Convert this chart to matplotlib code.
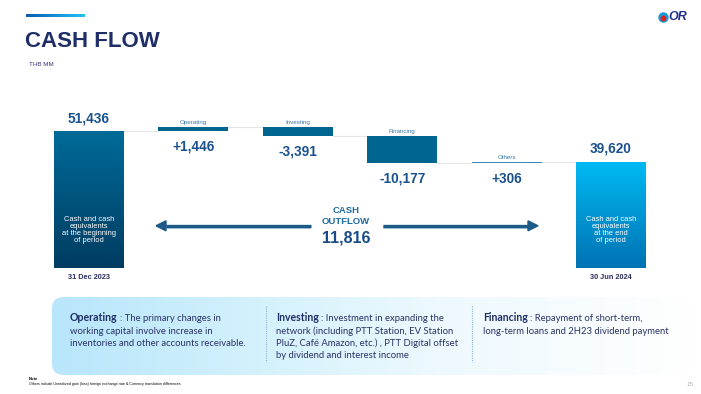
import numpy as np
import matplotlib
matplotlib.use("Agg")
import matplotlib.pyplot as plt
from matplotlib.colors import LinearSegmentedColormap
from matplotlib.patches import FancyBboxPatch, Polygon

plt.rcParams['font.family'] = ['Liberation Sans', 'DejaVu Sans']

# data (THB MM)
opening = 51436
closing = 39620
categories = ["Operating", "Investing", "Financing", "Others"]
changes = [1446, -3391, -10177, 306]
cash_outflow = 11816
period_labels = ["31 Dec 2023", "30 Jun 2024"]
total_notes = ["Cash and cash\nequivalents\nat the beginning\nof period",
               "Cash and cash\nequivalents\nat the end\nof period"]

notes_head = ["Operating", "Investing", "Financing"]
notes_lines = [
    [": The primary changes in",
     "working capital involve increase in",
     "inventories and other accounts receivable."],
    [": Investment in expanding the",
     "network (including PTT Station, EV Station",
     "PluZ, Café Amazon, etc.) , PTT Digital offset",
     "by dividend and interest income"],
    [": Repayment of short-term,",
     "long-term loans and 2H23 dividend payment"],
]

navy = "#1f2f66"
val_col = "#19528f"
bar_col = "#006690"

fig = plt.figure(figsize=(7.01, 3.94), dpi=100)
fig.patch.set_facecolor("white")

# overlay in pixel coordinates for the slide decoration
ov = fig.add_axes([0, 0, 1, 1])
ov.set_xlim(0, 701)
ov.set_ylim(394, 0)
ov.axis("off")

# waterfall axes
ax = fig.add_axes([36.8 / 701, 126 / 394, 626.4 / 701, 159.8 / 394])
ax.patch.set_alpha(0)
ax.axis("off")

w = 0.67
x_open, x_close = 0, len(changes) + 1

def grad_bar(x, val, c_bottom, c_top):
    b = ax.bar(x, val, w, color="none", zorder=2)[0]
    cmap = LinearSegmentedColormap.from_list("g", [c_bottom, c_top])
    im = ax.imshow(np.linspace(0, 1, 256).reshape(-1, 1), cmap=cmap, origin="lower",
                   extent=[b.get_x(), b.get_x() + b.get_width(), 0, val],
                   aspect="auto", zorder=2)
    im.set_clip_path(b)
    return b

grad_bar(x_open, opening, "#003c62", "#006b98")
grad_bar(x_close, closing, "#0072b3", "#00baf3")

ax.annotate(f"{opening:,}", (x_open, opening), xytext=(0, 4), textcoords="offset points",
            ha="center", va="bottom", fontsize=9.8, weight="bold", color=val_col)
ax.annotate(f"{closing:,}", (x_close, closing), xytext=(0, 5), textcoords="offset points",
            ha="center", va="bottom", fontsize=9.8, weight="bold", color=val_col)

for xi, txt in zip([x_open, x_close], total_notes):
    ax.annotate(txt, (xi, 0), xytext=(0, 17), textcoords="offset points",
                ha="center", va="bottom", fontsize=5.4, color="white", linespacing=1.05)
for xi, txt in zip([x_open, x_close], period_labels):
    ax.annotate(txt, (xi, 0), xytext=(0, -4), textcoords="offset points",
                ha="center", va="top", fontsize=5.3, weight="bold", color="#2b2e5e")

running = opening
levels = [opening]
for i, (cat, ch) in enumerate(zip(categories, changes)):
    xi = i + 1
    bottom = running + min(ch, 0)
    col = bar_col if cat != "Others" else "#3d87bb"
    ax.bar(xi, abs(ch), w, bottom=bottom, color=col, zorder=2)
    ax.annotate(cat, (xi, bottom + abs(ch)), xytext=(0, 1.5), textcoords="offset points",
                ha="center", va="bottom", fontsize=4.5, color="#3a78a8")
    ax.annotate(f"{ch:+,}", (xi, bottom), xytext=(0, -6), textcoords="offset points",
                ha="center", va="top", fontsize=9.8, weight="bold", color=val_col)
    running += ch
    levels.append(running)

# connector lines between bars
for i, lv in enumerate(levels):
    ax.plot([i + w / 2, i + 1 - w / 2], [lv, lv], color="#e4e6ea", lw=0.8, zorder=1)

ax.set_xlim(-0.5, 5.5)
ax.set_ylim(0, 60000)

# title block
tb = np.linspace(0, 1, 128).reshape(1, -1)
ov.imshow(tb, cmap=LinearSegmentedColormap.from_list("t", ["#0a5cb0", "#22c2f5"]),
          extent=[26, 85, 17.3, 14.8], aspect="auto", zorder=3)
ov.text(25, 41, "CASH FLOW", fontsize=16, weight="bold", color=navy, va="center", ha="left")
ov.text(29, 64, "THB MM", fontsize=4.5, color="#3c3579", va="center", ha="left")

# logo
ov.plot(663, 16.5, marker="o", ms=6.5, color="#1a9ad6", zorder=4)
ov.plot(663, 17.5, marker="o", ms=3.2, color="#e02020", zorder=5)
ov.text(668, 17, "OR", fontsize=9, weight="bold", style="italic", color="#1f2f8a",
        va="center", ha="left")

# cash outflow arrows
for x0, x1 in [(311, 166), (383, 528)]:
    ov.plot([x0, x1], [227.2, 227.2], color="#a8c3d6", lw=2.6, solid_capstyle="butt", zorder=3)
    ov.plot([x0, x1], [225.6, 225.6], color="#1c5a87", lw=2.4, solid_capstyle="butt", zorder=4)
    tip = 156 if x1 < x0 else 538
    ov.add_patch(Polygon([[tip, 225.8], [x1, 220.8], [x1, 230.8]], closed=True,
                         color="#1c5a87", zorder=4))

ov.text(346, 216, "CASH\nOUTFLOW", fontsize=6.8, weight="bold", color="#1f6aa0",
        ha="center", va="center", linespacing=1.15)
ov.text(346, 237.5, f"{cash_outflow:,}", fontsize=11.5, weight="bold", color="#174b8a",
        ha="center", va="center")

# notes box
box = FancyBboxPatch((52, 297), 640, 78, boxstyle="round,pad=0,rounding_size=12",
                     facecolor="none", edgecolor="none")
ov.add_patch(box)
bg = np.linspace(0, 1, 256).reshape(1, -1)
bcmap = LinearSegmentedColormap.from_list(
    "b", [(0, "#b8e6fb"), (0.35, "#d6f2fd"), (0.6, "#edf9fe"), (1, "#ffffff")])
im = ov.imshow(bg, cmap=bcmap, extent=[52, 692, 375, 297], aspect="auto", zorder=1)
im.set_clip_path(box)

for xs in [265.5, 471.5]:
    ov.plot([xs, xs], [306, 362], color="#8db9d9", lw=0.8, ls=(0, (1, 1)), zorder=2)

fig.canvas.draw()
rend = fig.canvas.get_renderer()
txt_col = "#2a3366"
col_x = [70, 276, 483]
base0 = 321.3
for cx, head, lines in zip(col_x, notes_head, notes_lines):
    h = ov.text(cx, base0, head, fontsize=7.6, weight="bold", color=navy,
                family="Lato", va="baseline", ha="left", zorder=3)
    bb = h.get_window_extent(renderer=rend)
    ov.text(bb.x1 + 2.5, base0, lines[0], fontsize=6.85, color=txt_col,
            family="Lato", va="baseline", ha="left", zorder=3)
    for k, ln in enumerate(lines[1:]):
        ov.text(cx, base0 + 12.3 * (k + 1), ln, fontsize=6.85, color=txt_col,
                family="Lato", va="baseline", ha="left", zorder=3)

# footnote and page number
ov.text(29, 379.5, "Note", fontsize=3, weight="bold", color="black", va="center", ha="left")
ov.text(29, 384.3, "Others include Unrealized gain (loss) foreign exchange rate & Currency translation differences",
        fontsize=2.6, color="black", va="center", ha="left")
ov.text(693, 384, "15", fontsize=4.5, color="#b0b0b0", va="center", ha="right")

fig.savefig("out.png", dpi=100)
